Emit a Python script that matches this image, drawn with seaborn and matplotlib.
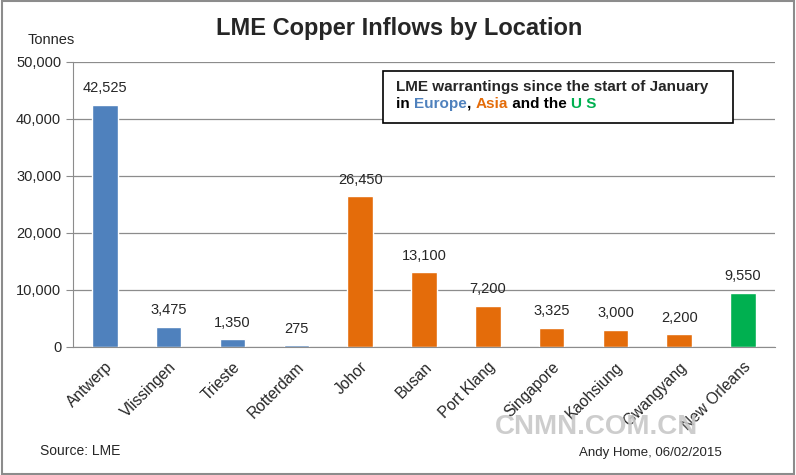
import numpy as np
import pandas as pd
import seaborn as sns
from matplotlib import pyplot as plt
from matplotlib.patches import Rectangle

sns.set_style("white")
plt.rcParams['font.family'] = ['Liberation Sans', 'DejaVu Sans']

locations = ["Antwerp", "Vlissingen", "Trieste", "Rotterdam", "Johor", "Busan",
             "Port Klang", "Singapore", "Kaohsiung", "Gwangyang", "New Orleans"]
tonnes = [42525, 3475, 1350, 275, 26450, 13100, 7200, 3325, 3000, 2200, 9550]
region = ["Europe", "Europe", "Europe", "Europe", "Asia", "Asia", "Asia", "Asia",
          "Asia", "Asia", "US"]

colours = {"Europe": "#4F81BD", "Asia": "#E46C0A", "US": "#00B050"}

df = pd.DataFrame({"location": locations, "tonnes": tonnes, "region": region})

fig = plt.figure(figsize=(7.96, 4.75), dpi=100)
ax = fig.add_axes([0.0917, 0.2695, 0.8819, 0.6])

sns.barplot(data=df, x="location", y="tonnes", hue="region", palette=colours,
            dodge=False, width=0.4, legend=False, ax=ax, saturation=1)

ax.set_ylim(0, 50000)
ax.set_xlim(-0.5, len(locations) - 0.5)
ax.set_yticks(np.arange(0, 50001, 10000))
ax.set_yticklabels(["{:,}".format(v) for v in range(0, 50001, 10000)], fontsize=10.5)
ax.yaxis.grid(True, color="#8c8c8c", linewidth=0.9)
ax.set_axisbelow(True)
ax.set_xlabel("")
ax.set_ylabel("")

ax.set_xticks(range(len(locations)))
ax.set_xticklabels(locations, rotation=45, ha="right", rotation_mode="anchor", fontsize=11.2)
ax.tick_params(axis="x", length=0, pad=9)
ax.set_xticks(np.arange(-0.5, len(locations), 1), minor=True)
ax.tick_params(axis="x", which="minor", length=5, color="#8c8c8c", direction="out")
ax.tick_params(axis="y", length=5, color="#8c8c8c", direction="out", left=True)

for s in ["top", "right"]:
    ax.spines[s].set_visible(False)
for s in ["left", "bottom"]:
    ax.spines[s].set_color("#8c8c8c")

for i, v in enumerate(tonnes):
    ax.text(i, v + 1700, "{:,}".format(v), ha="center", va="bottom", fontsize=10.5)

fig.text(0.502, 0.94, "LME Copper Inflows by Location", ha="center", va="center",
         fontsize=17, fontweight="bold")
fig.text(0.035, 0.915, "Tonnes", ha="left", va="center", fontsize=10.5)
fig.text(0.05, 0.05, "Source: LME", ha="left", va="center", fontsize=10)
fig.text(0.728, 0.047, "Andy Home, 06/02/2015", ha="left", va="center", fontsize=9.5)
fig.text(0.75, 0.101, "CNMN.COM.CN", ha="center", va="center", fontsize=20,
         fontweight="bold", color="#c8c8c8", alpha=0.9)

# info box
fig.patches.append(Rectangle((383 / 796, 1 - 123 / 475), 350 / 796, 52 / 475,
                             transform=fig.transFigure, facecolor="white",
                             edgecolor="black", linewidth=1.2, zorder=5))
fig.text(396 / 796, 1 - 87 / 475, "LME warrantings since the start of January",
         ha="left", va="center", fontsize=11, fontweight="bold", zorder=6)
y2 = 1 - 104 / 475
parts = [("in ", "black"), ("Europe", colours["Europe"]), (", ", "black"),
         ("Asia", colours["Asia"]), (" and the ", "black"), ("U S", colours["US"])]
x = 396 / 796
renderer = fig.canvas.get_renderer()
for txt, col in parts:
    t = fig.text(x, y2, txt, ha="left", va="center", fontsize=11,
                 fontweight="bold", color=col, zorder=6)
    bb = t.get_window_extent(renderer=renderer)
    x += bb.width / fig.bbox.width

# outer border
fig.patches.append(Rectangle((0.002, 0.002), 0.996, 0.996, transform=fig.transFigure,
                             fill=False, edgecolor="#8c8c8c", linewidth=1.5))

fig.savefig("out.png", dpi=100)
